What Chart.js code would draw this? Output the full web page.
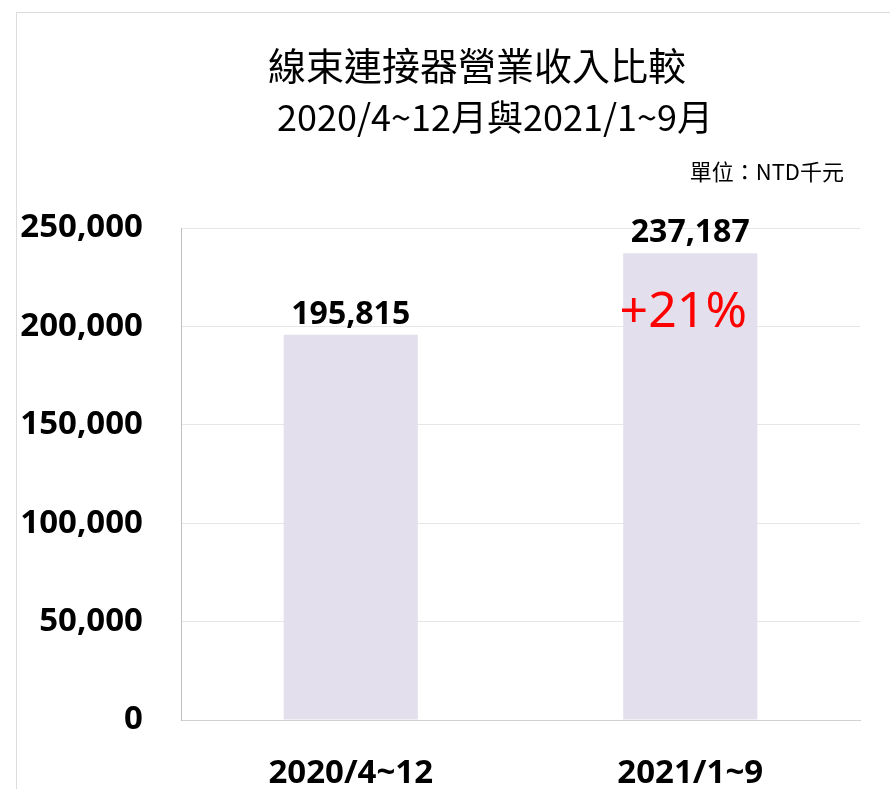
<!DOCTYPE html>
<html>
<head>
<meta charset="utf-8">
<script src="https://cdn.jsdelivr.net/npm/chart.js@4/dist/chart.umd.min.js"></script>
<style>
html,body{margin:0;padding:0;background:#fff;}
#wrap{position:absolute;left:0;top:0;width:890px;height:789px;}
#frame{position:absolute;left:16px;top:12px;width:874px;height:777px;border-left:1px solid #dcdcdc;border-top:1px solid #dcdcdc;pointer-events:none;}
</style>
</head>
<body>
<div id="wrap"><canvas id="c" width="890" height="789"></canvas><div id="frame"></div></div>
<script>
const titleText = "線束連接器營業收入比較";
const subtitleText = "2020/4~12月與2021/1~9月";
const unitText = "單位：NTD千元";
const categories = ["2020/4~12", "2021/1~9"];
const revenue = [195815, 237187];
const growthText = "+21%";
const yTicks = [0, 50000, 100000, 150000, 200000, 250000];

const fmt = v => v.toLocaleString('en-US');

const overlay = {
  id: 'overlay',
  afterDatasetsDraw(chart) {
    const ctx = chart.ctx;
    ctx.save();
    ctx.fillStyle = '#000';
    ctx.textAlign = 'center';
    ctx.textBaseline = 'middle';
    ctx.font = '38px "Noto Sans CJK TC"';
    ctx.fillText(titleText, 477, 66);
    ctx.font = '36px "Noto Sans CJK TC"';
    ctx.fillText(subtitleText, 495, 117);
    ctx.textAlign = 'right';
    ctx.font = '22px "Noto Sans CJK TC"';
    ctx.fillText(unitText, 844, 172);
    const meta = chart.getDatasetMeta(0);
    ctx.textAlign = 'center';
    ctx.textBaseline = 'alphabetic';
    ctx.font = 'bold 32px "Noto Sans"';
    meta.data.forEach((bar, i) => {
      ctx.fillText(fmt(revenue[i]), bar.x, bar.y - 11);
    });
    const b = meta.data[1];
    ctx.fillStyle = '#ff0000';
    ctx.font = '50px "Noto Sans"';
    ctx.textBaseline = 'middle';
    ctx.fillText(growthText, b.x - 7, b.y + 60);
    ctx.restore();
  }
};

new Chart(document.getElementById('c'), {
  type: 'bar',
  data: {
    labels: categories,
    datasets: [{
      data: revenue,
      backgroundColor: '#e4dfec',
      borderWidth: 0,
      barPercentage: 0.395,
      categoryPercentage: 1
    }]
  },
  options: {
    responsive: false,
    animation: false,
    devicePixelRatio: 1,
    layout: { padding: { top: 228, right: 30, bottom: 0, left: 0 } },
    plugins: { legend: { display: false }, tooltip: { enabled: false }, title: { display: false } },
    scales: {
      x: {
        grid: { display: false, drawTicks: false },
        border: { display: true, color: '#d0d0d0', width: 1 },
        ticks: { color: '#000', font: { family: 'Noto Sans', weight: 'bold', size: 33 }, padding: 34 },
        afterFit(s) { s.height = 69; }
      },
      y: {
        min: 0, max: 250000,
        afterBuildTicks(s) { s.ticks = yTicks.map(v => ({ value: v })); },
        grid: { color: '#e6e6e6', lineWidth: 1, drawTicks: false },
        border: { display: true, color: '#bfbfbf', width: 1 },
        ticks: { color: '#000', font: { family: 'Noto Sans', weight: 'bold', size: 33 }, padding: 38, callback: v => fmt(v) },
        afterFit(s) { s.width = 181; }
      }
    }
  },
  plugins: [overlay]
});
</script>
</body>
</html>
